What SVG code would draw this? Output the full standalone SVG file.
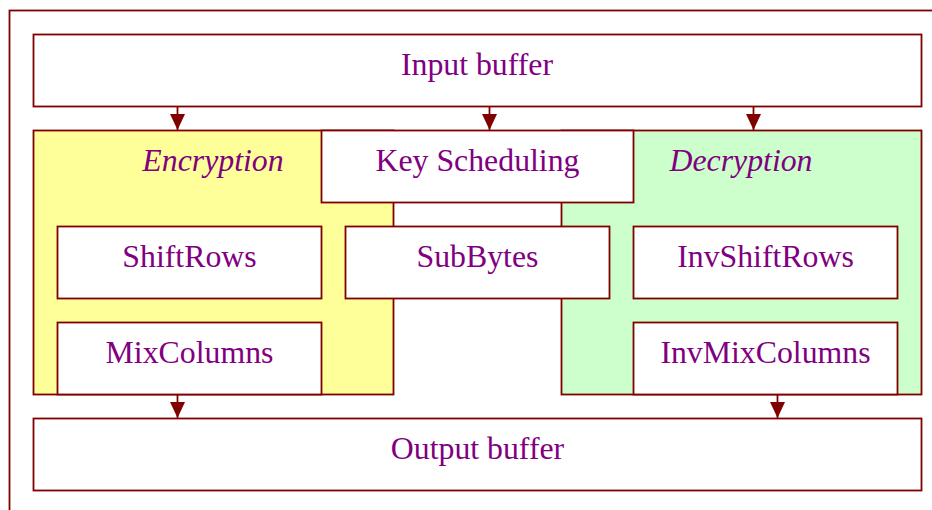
<svg xmlns="http://www.w3.org/2000/svg" width="932" height="510" viewBox="0 0 932 510">
<defs>
<style>
.box{fill:#ffffff;stroke:#800000;stroke-width:1.8}
.enc{fill:#ffff99;stroke:#800000;stroke-width:1.8}
.dec{fill:#ccffcc;stroke:#800000;stroke-width:1.8}
.lbl{font-family:"Liberation Serif","Times New Roman",serif;font-size:31.8px;fill:#800080;text-anchor:middle}
.it{font-style:italic}
.conn{stroke:#800000;stroke-width:1.8;fill:none}
</style>
<marker id="ah" markerWidth="16" markerHeight="15" refX="16" refY="7.5" orient="auto" markerUnits="userSpaceOnUse">
<path d="M0,0 L16,7.5 L0,15 Z" fill="#800000"/>
</marker>
</defs>
<rect x="0" y="0" width="932" height="510" fill="#ffffff"/>
<rect id="frame" x="9.5" y="10.5" width="1000" height="1000" fill="none" stroke="#800000" stroke-width="1.8"/>
<g id="input">
<rect class="box" x="33.5" y="34.5" width="888" height="72"/>
<text class="lbl" x="477" y="75">Input buffer</text>
</g>
<g id="encryption">
<rect class="enc" x="33.5" y="130.5" width="360" height="264"/>
<text class="lbl it" x="213" y="171">Encryption</text>
</g>
<g id="decryption">
<rect class="dec" x="561.5" y="130.5" width="360" height="264"/>
<text class="lbl it" x="741" y="171">Decryption</text>
</g>
<g id="keysched">
<rect class="box" x="321.5" y="130.5" width="312" height="72"/>
<text class="lbl" x="477.5" y="171">Key Scheduling</text>
</g>
<g id="shiftrows">
<rect class="box" x="57.5" y="226.5" width="264" height="72"/>
<text class="lbl" x="189.5" y="267">ShiftRows</text>
</g>
<g id="subbytes">
<rect class="box" x="345.5" y="226.5" width="264" height="72"/>
<text class="lbl" x="477.5" y="267">SubBytes</text>
</g>
<g id="invshiftrows">
<rect class="box" x="633.5" y="226.5" width="264" height="72"/>
<text class="lbl" x="765.5" y="267">InvShiftRows</text>
</g>
<g id="mixcolumns">
<rect class="box" x="57.5" y="322.5" width="264" height="72"/>
<text class="lbl" x="189.5" y="363">MixColumns</text>
</g>
<g id="invmixcolumns">
<rect class="box" x="633.5" y="322.5" width="264" height="72"/>
<text class="lbl" x="765.5" y="363">InvMixColumns</text>
</g>
<g id="output">
<rect class="box" x="33.5" y="418.5" width="888" height="72"/>
<text class="lbl" x="477.5" y="459">Output buffer</text>
</g>
<g id="connectors">
<line class="conn" x1="177.5" y1="106.5" x2="177.5" y2="130" marker-end="url(#ah)"/>
<line class="conn" x1="489.5" y1="106.5" x2="489.5" y2="130" marker-end="url(#ah)"/>
<line class="conn" x1="753.5" y1="106.5" x2="753.5" y2="130" marker-end="url(#ah)"/>
<line class="conn" x1="177.5" y1="394.5" x2="177.5" y2="418" marker-end="url(#ah)"/>
<line class="conn" x1="777.5" y1="394.5" x2="777.5" y2="418" marker-end="url(#ah)"/>
</g>
</svg>
